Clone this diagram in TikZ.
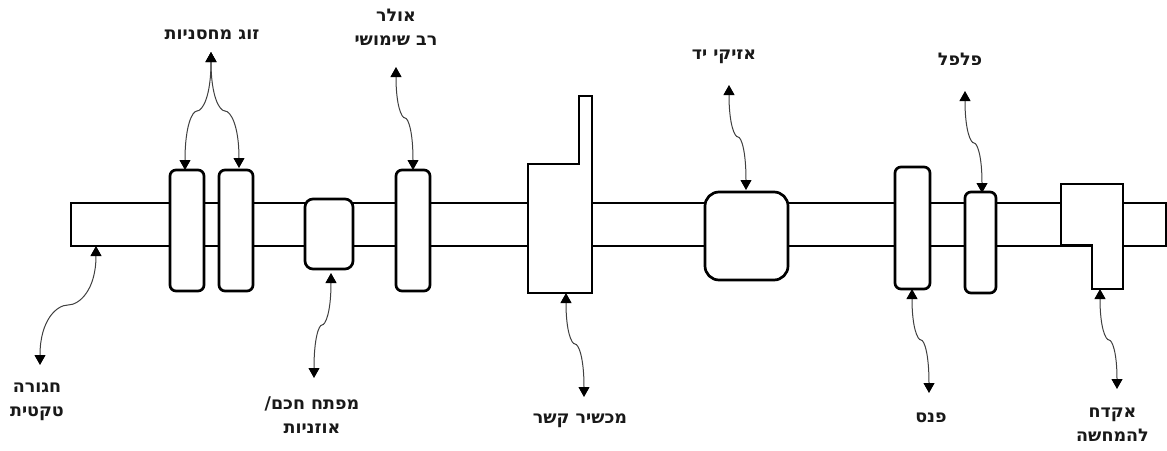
\documentclass[tikz,border=0pt]{standalone}
\usepackage{fontspec}
\usetikzlibrary{arrows.meta,calc}
\TeXXeTstate=1
\newfontfamily\hebfont[Script=Hebrew]{DejaVu Sans}
\newcommand{\heb}[1]{\beginR #1\endR}
\newcommand{\sconn}[3]{\draw[conn] (#1) .. controls ($(#1)!.75!(#1|-#2)$) and ($(#1|-#2)!.6!(#2)$) .. (#2) .. controls ($(#3|-#2)!.6!(#2)$) and ($(#3)!.75!(#3|-#2)$) .. (#3);}
\tikzset{
  part/.style={draw=black,fill=white,line width=2.7pt,rounded corners=6pt,inner sep=0pt,outer sep=0pt},
  poly/.style={draw=black,fill=white,line width=2.4pt,line join=miter},
  conn/.style={draw=black!75,line width=1pt,{Triangle[width=11pt,length=10pt,black]}-{Triangle[width=11pt,length=10pt,black]}},
  lbl/.style={font=\hebfont\bfseries\fontsize{17.5}{24}\selectfont,text=black!90,inner sep=0pt,align=center}
}
\begin{document}
\begin{tikzpicture}[x=1pt,y=-1pt]
\useasboundingbox (0,0) rectangle (1167,450);
\fill[white] (0,0) rectangle (1167,450);
% belt
\node[draw=black,fill=white,line width=2.7pt,inner sep=0pt,outer sep=0pt,minimum width=1095pt,minimum height=43pt] (belt) at (618.5,224.5) {};
% parts
\node[part,minimum width=34pt,minimum height=121pt] (b1) at (187,230.5) {};
\node[part,minimum width=34pt,minimum height=121pt] (b2) at (236,230.5) {};
\node[part,minimum width=48pt,minimum height=70pt,rounded corners=8pt] (b3) at (329,234) {};
\node[part,minimum width=34pt,minimum height=121pt] (b4) at (413,230.5) {};
\draw[poly] (528,164) -- (579,164) -- (579,96) -- (592,96) -- (592,293) -- (528,293) -- cycle;
\node[part,minimum width=83pt,minimum height=88pt,rounded corners=14pt] (watch) at (746.5,236) {};
\node[part,minimum width=35pt,minimum height=122pt] (b5) at (912.5,228) {};
\node[part,minimum width=31pt,minimum height=101pt] (b6) at (980.5,242.5) {};
\draw[poly] (1061,184) -- (1123,184) -- (1123,289) -- (1092,289) -- (1092,245) -- (1061,245) -- cycle;
% connector ends
\coordinate (t1) at (211,52);
\coordinate (m1) at (197,111);
\coordinate (e1) at (185,170);
\coordinate (m2) at (225,111);
\coordinate (e2) at (239,168);
\coordinate (t3) at (396,67);
\coordinate (m3) at (405,118);
\coordinate (e3) at (413,170);
\coordinate (t4) at (96,246);
\coordinate (m4) at (68,305);
\coordinate (e4) at (40,365);
\coordinate (t5) at (331,273);
\coordinate (m5) at (322,325);
\coordinate (e5) at (314,378);
\coordinate (t6) at (566,293);
\coordinate (m6) at (575,344);
\coordinate (e6) at (584,397);
\coordinate (t7) at (729,85);
\coordinate (m7) at (738,137);
\coordinate (e7) at (746,190);
\coordinate (t8) at (965,91);
\coordinate (m8) at (974,143);
\coordinate (e8) at (982,193);
\coordinate (t9) at (912,289);
\coordinate (m9) at (921,340);
\coordinate (e9) at (929,393);
\coordinate (t10) at (1100,289);
\coordinate (m10) at (1109,340);
\coordinate (e10) at (1117,389);
\sconn{t1}{m1}{e1}
\sconn{t1}{m2}{e2}
\sconn{t3}{m3}{e3}
\sconn{t4}{m4}{e4}
\sconn{t5}{m5}{e5}
\sconn{t6}{m6}{e6}
\sconn{t7}{m7}{e7}
\sconn{t8}{m8}{e8}
\sconn{t9}{m9}{e9}
\sconn{t10}{m10}{e10}
% labels
\node[lbl] (l1) at (212,35) {\heb{זוג מחסניות}};
\node[lbl] (l2) at (396,27) {\heb{אולר}\\\heb{רב שימושי}};
\node[lbl] (l3) at (724,57) {\heb{אזיקי יד}};
\node[lbl] (l4) at (960,59) {\heb{פלפל}};
\node[lbl] (l5) at (37,402) {\heb{חגורה}\\\heb{טקטית}};
\node[lbl] (l6) at (312,415.5) {\heb{מפתח חכם/}\\\heb{אוזניות}};
\node[lbl] (l7) at (580,420.5) {\heb{מכשיר קשר}};
\node[lbl] (l8) at (931,418) {\heb{פנס}};
\node[lbl] (l9) at (1112.5,425) {\heb{אקדח}\\\heb{להמחשה}};
\end{tikzpicture}
\end{document}
